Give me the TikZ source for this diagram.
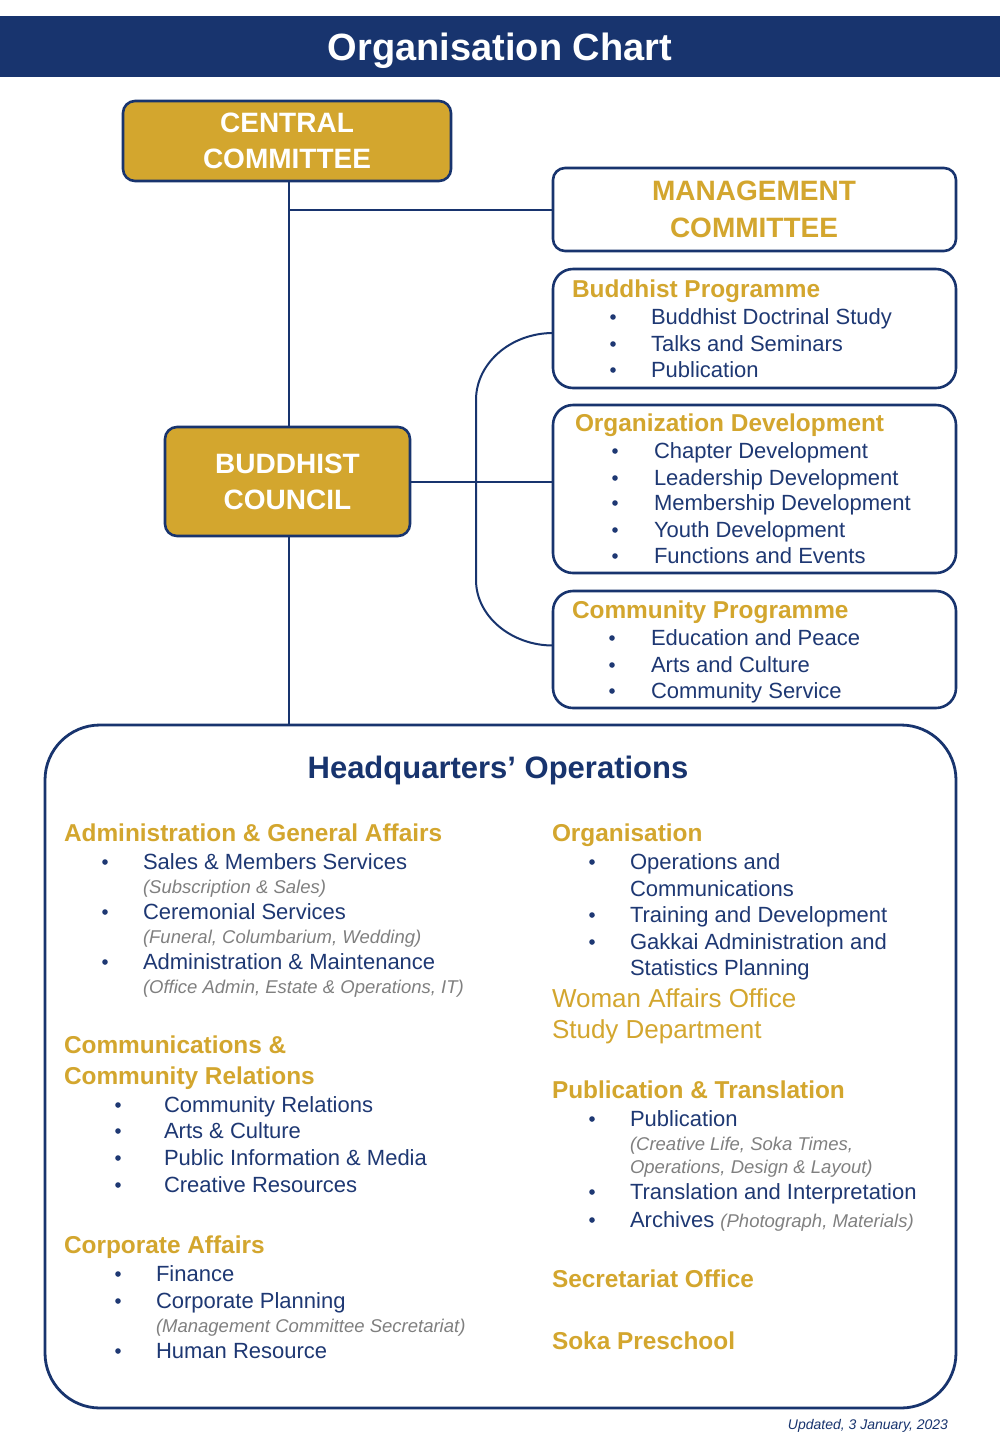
\documentclass[tikz,border=0pt]{standalone}
\usepackage{fontspec}
\setmainfont{Liberation Sans}
\usetikzlibrary{calc}
\definecolor{navy}{RGB}{24,52,110}
\definecolor{tnavy}{RGB}{30,56,115}
\definecolor{gold}{RGB}{211,166,46}
\definecolor{greyt}{RGB}{128,128,128}
\newcommand\ocHead[4]{\node[head] (#1) at (#2,#3+8.7) {#4};}
\newcommand\ocItem[4]{\node[item] (#1) at (#2,#3+7.9) {#4};}
\newcommand\ocNote[4]{\node[note] (#1) at (#2,#3+6.6) {#4};}
\newcommand\ocBul[5]{\fill[tnavy] (#2,#3) circle (2.8pt); \node[item] (#1) at (#4,#3+7.9) {#5};}
\begin{document}
\begin{tikzpicture}[x=1pt,y=-1pt,
  every node/.style={inner sep=0pt, outer sep=0pt},
  conn/.style={draw=navy, line width=2pt},
  gbox/.style={draw=navy, line width=2.6pt, fill=gold, rounded corners=12pt},
  wbox/.style={draw=navy, line width=2.6pt, fill=white, rounded corners=12pt},
  cbox/.style={draw=navy, line width=2.6pt, fill=white, rounded corners=20pt},
  boxcap/.style={anchor=base, font=\fontsize{28}{34}\selectfont\bfseries},
  head/.style={anchor=base west, text=gold, font=\fontsize{24.4}{29}\selectfont\bfseries},
  item/.style={anchor=base west, text=tnavy, font=\fontsize{22}{26}\selectfont},
  note/.style={anchor=base west, text=greyt, font=\fontsize{18.5}{22}\selectfont\itshape},
  big/.style={anchor=base west, text=gold, font=\fontsize{26}{30}\selectfont},
]
\fill[white] (0,0) rectangle (1000,1444);
\useasboundingbox (0,0) rectangle (1000,1444);

% title bar
\node[fill=navy, minimum width=1000pt, minimum height=61pt] (bar) at (500,46.5) {};
\node[anchor=base, text=white, font=\fontsize{38}{44}\selectfont\bfseries] (title) at (500,60.6) {Organisation Chart};

% connectors (drawn under the boxes)
\coordinate (cct) at (289,141);
\coordinate (bcc) at (289,481.5);
\node[gbox, minimum width=328pt, minimum height=80pt] (cc) at (287,141) {};
\node[wbox, minimum width=403pt, minimum height=83pt] (mc) at (754.5,209.5) {};
\node[gbox, minimum width=245pt, minimum height=109pt] (bc) at (287.5,481.5) {};
\node[cbox, minimum width=403pt, minimum height=119pt] (bp) at (754.5,328.5) {};
\node[cbox, minimum width=403pt, minimum height=168pt] (od) at (754.5,489) {};
\node[cbox, minimum width=403pt, minimum height=117pt] (cp) at (754.5,649.5) {};
\node[draw=navy, line width=2.8pt, rounded corners=55pt, minimum width=911pt, minimum height=683pt] (hq) at (500.5,1066.5) {};

\draw[conn] (cct |- cc.south) -- (cct |- bc.north);
\draw[conn] (cct |- mc.west) -- (mc.west);
\draw[conn] (bcc |- bc.south) -- (bcc |- hq.north);
\draw[conn] (bc.east) -- (bc.east -| od.west);
\coordinate (bpc) at ([yshift=-4.5pt]bp.west);
\coordinate (cpc) at ([yshift=4pt]cp.west);
\draw[conn] (bpc) .. controls (511,333) and (476,363) .. (476,400) -- (476,580) .. controls (476,616) and (511,645.5) .. (cpc);

% box captions
\node[boxcap, text=white] (cc1) at (287,132) {CENTRAL};
\node[boxcap, text=white] (cc2) at (287,168) {COMMITTEE};
\node[boxcap, text=gold] (mc1) at (754,200) {MANAGEMENT};
\node[boxcap, text=gold] (mc2) at (754,237) {COMMITTEE};
\node[boxcap, text=white] (bc1) at (287.5,473) {BUDDHIST};
\node[boxcap, text=white] (bc2) at (287.5,509) {COUNCIL};

% Buddhist Programme
\ocHead{bph}{572}{289}{Buddhist Programme}
\ocBul{bp1}{613}{317}{651}{Buddhist Doctrinal Study}
\ocBul{bp2}{613}{344}{651}{Talks and Seminars}
\ocBul{bp3}{613}{370}{651}{Publication}

% Organization Development
\ocHead{odh}{575}{423}{Organization Development}
\ocBul{od1}{615}{451}{654}{Chapter Development}
\ocBul{od2}{615}{478}{654}{Leadership Development}
\ocBul{od3}{615}{503}{654}{Membership Development}
\ocBul{od4}{615}{530}{654}{Youth Development}
\ocBul{od5}{615}{556}{654}{Functions and Events}

% Community Programme
\ocHead{cph}{572}{610}{Community Programme}
\ocBul{cp1}{612}{638}{651}{Education and Peace}
\ocBul{cp2}{612}{665}{651}{Arts and Culture}
\ocBul{cp3}{612}{691}{651}{Community Service}

% HQ title
\node[anchor=base, text=navy, font=\fontsize{31}{36}\selectfont\bfseries] (hqt) at (498,778) {Headquarters’ Operations};

% left column
\ocHead{ag}{64}{833}{Administration \& General Affairs}
\ocBul{ag1}{105}{862}{143}{Sales \& Members Services}
\ocNote{ag1n}{143}{887}{(Subscription \& Sales)}
\ocBul{ag2}{105}{912}{143}{Ceremonial Services}
\ocNote{ag2n}{143}{937}{(Funeral, Columbarium, Wedding)}
\ocBul{ag3}{105}{962}{143}{Administration \& Maintenance}
\ocNote{ag3n}{143}{987}{(Office Admin, Estate \& Operations, IT)}

\ocHead{ccr1}{64}{1045}{Communications \&}
\ocHead{ccr2}{64}{1076}{Community Relations}
\ocBul{cr1}{118}{1105}{164}{Community Relations}
\ocBul{cr2}{118}{1131}{164}{Arts \& Culture}
\ocBul{cr3}{118}{1158}{164}{Public Information \& Media}
\ocBul{cr4}{118}{1185}{164}{Creative Resources}

\ocHead{ca}{64}{1245}{Corporate Affairs}
\ocBul{ca1}{118}{1274}{156}{Finance}
\ocBul{ca2}{118}{1301}{156}{Corporate Planning}
\ocNote{ca2n}{156}{1326}{(Management Committee Secretariat)}
\ocBul{ca3}{118}{1351}{156}{Human Resource}

% right column
\ocHead{org}{552}{833}{Organisation}
\ocBul{org1}{592}{862}{630}{Operations and}
\ocItem{org1b}{630}{889}{Communications}
\ocBul{org2}{592}{915}{630}{Training and Development}
\ocBul{org3}{592}{942}{630}{Gakkai Administration and}
\ocItem{org3b}{630}{968}{Statistics Planning}
\node[big] (waf) at (552,998+9.3) {Woman Affairs Office};
\node[big] (sd) at (552,1029+9.3) {Study Department};

\ocHead{pt}{552}{1090}{Publication \& Translation}
\ocBul{pt1}{592}{1119}{630}{Publication}
\ocNote{pt1n}{630}{1144}{(Creative Life, Soka Times,}
\ocNote{pt1m}{630}{1167}{Operations, Design \& Layout)}
\ocBul{pt2}{592}{1192}{630}{Translation and Interpretation}
\ocBul{pt3}{592}{1220}{630}{Archives {\color{greyt}\itshape\fontsize{18.5}{22}\selectfont (Photograph, Materials)}}

\ocHead{so}{552}{1279}{Secretariat Office}
\ocHead{sp}{552}{1341}{Soka Preschool}

\node[anchor=base east, text=navy, font=\fontsize{14}{17}\selectfont\itshape] (upd) at (948,1429) {Updated, 3 January, 2023};
\end{tikzpicture}
\end{document}
